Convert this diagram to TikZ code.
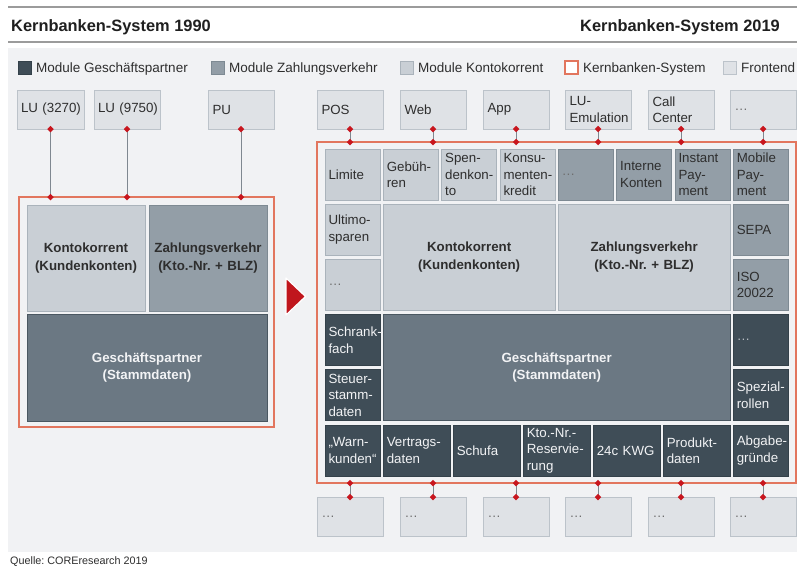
\documentclass[tikz,border=0pt]{standalone}
\usepackage{fontspec}
\setmainfont{Liberation Sans}
\usetikzlibrary{shapes.geometric}
\hyphenpenalty=10000
\exhyphenpenalty=10000
\frenchspacing

\definecolor{panelbg}{HTML}{F1F2F4}
\definecolor{rulegray}{HTML}{9B9B9B}
\definecolor{fefill}{HTML}{DFE2E6}
\definecolor{fedraw}{HTML}{BCC3CA}
\definecolor{kkfill}{HTML}{C9CFD5}
\definecolor{kkdraw}{HTML}{AAB3BB}
\definecolor{zvfill}{HTML}{939EA7}
\definecolor{zvdraw}{HTML}{7E8A93}
\definecolor{gpfill}{HTML}{3F4D57}
\definecolor{gpdraw}{HTML}{34414A}
\definecolor{gpbigfill}{HTML}{6B7883}
\definecolor{sysred}{HTML}{E2765E}
\definecolor{dotred}{HTML}{C8161E}
\definecolor{arrowred}{HTML}{C0161D}
\definecolor{txtdark}{HTML}{2E2E2E}
\definecolor{txtlight}{HTML}{F2F3F5}
\definecolor{linegray}{HTML}{7F8890}

% cell: [padding]{name}{style}{x1}{y1}{x2}{y2}{text}, pixel-like coordinates
\newcommand\modcell[8][3.5]{%
  \pgfmathsetmacro\mcw{#6-#4}%
  \pgfmathsetmacro\mch{#7-#5}%
  \pgfmathsetmacro\mct{#6-#4-2*#1}%
  \node[#3, inner xsep=#1pt, minimum width=\mcw pt, minimum height=\mch pt,
        text width=\mct pt] (#2) at ({(#4+#6)/2},{(#5+#7)/2}) {#8};}
\newcommand\ellip{{\color[HTML]{6E6E6E}…}}
\newcommand\ellipw{{\color[HTML]{B8BEC4}…}}

\tikzset{
  cellbase/.style={rectangle, inner ysep=0pt, outer sep=0pt, line width=0.8pt,
    align=left, font=\fontsize{13.3}{16.4}\selectfont},
  fe/.style={cellbase, fill=fefill, draw=fedraw, text=txtdark},
  kk/.style={cellbase, fill=kkfill, draw=kkdraw, text=txtdark},
  zv/.style={cellbase, fill=zvfill, draw=zvdraw, text=txtdark},
  gp/.style={cellbase, fill=gpfill, draw=gpdraw, text=txtlight},
  kkbig/.style={kk, align=center, font=\fontsize{13.3}{17.5}\selectfont\bfseries},
  zvbig/.style={zv, align=center, font=\fontsize{13.3}{17.5}\selectfont\bfseries},
  gpbig/.style={cellbase, fill=gpbigfill, draw=gpdraw!60!gpbigfill, text=txtlight,
    align=center, font=\fontsize{13.3}{17.5}\selectfont\bfseries},
  sysbox/.style={rectangle, draw=sysred, line width=1.5pt, outer sep=0pt, inner sep=0pt},
  conn/.style={draw=linegray, line width=0.9pt},
  dot/.style={diamond, fill=dotred, minimum size=6.5pt, inner sep=0pt, outer sep=0pt},
  legsq/.style={rectangle, minimum size=13pt, inner sep=0pt, outer sep=0pt, line width=0.8pt},
  legtxt/.style={anchor=base west, inner sep=0pt, text=txtdark, font=\fontsize{13.5}{16}\selectfont},
  title/.style={inner sep=0pt, text=black!88, font=\fontsize{16.4}{19}\selectfont\bfseries}
}

\begin{document}
\begin{tikzpicture}[x=1pt, y=-1pt]
\useasboundingbox (0,0) rectangle (797,566);
\fill[white] (0,0) rectangle (797,566);

% header
\draw[rulegray, line width=1.3pt] (8,7) -- (797,7);
\draw[rulegray, line width=1.3pt] (8,42) -- (797,42);
\node[title, anchor=base west] (t1990) at (11,31) {Kernbanken-System 1990};
\node[title, anchor=base east] (t2019) at (780,31) {Kernbanken-System 2019};

% panel
\fill[panelbg] (8,48) rectangle (797,552);

% legend
\node[legsq, fill=gpfill, draw=gpdraw] (lgGP) at (24.5,67.5) {};
\node[legtxt] (lgGPt) at (36,72.8) {Module Geschäftspartner};
\node[legsq, fill=zvfill, draw=zvdraw] (lgZV) at (217.5,67.5) {};
\node[legtxt] (lgZVt) at (229,72.8) {Module Zahlungsverkehr};
\node[legsq, fill=kkfill, draw=kkdraw] (lgKK) at (406.5,67.5) {};
\node[legtxt] (lgKKt) at (418,72.8) {Module Kontokorrent};
\node[legsq, fill=white, draw=sysred, line width=1.2pt] (lgSys) at (571.5,67.5) {};
\node[legtxt] (lgSyst) at (583,72.8) {Kernbanken-System};
\node[legsq, fill=fefill, draw=fedraw] (lgFE) at (729.5,67.5) {};
\node[legtxt] (lgFEt) at (741,72.8) {Frontend};

% frontends
\modcell[4]{fLUa}{fe}{17}{90}{84}{129}{LU~(3270)}
\modcell[4]{fLUb}{fe}{94}{90}{160}{129}{LU~(9750)}
\modcell[4.5]{fPU}{fe}{208}{90}{274}{129}{PU}
\modcell[4.5]{fPOS}{fe}{317}{90}{383}{129}{POS}
\modcell[4.5]{fWeb}{fe}{400}{90}{466}{129}{Web}
\modcell[4.5]{fApp}{fe}{483}{90}{549}{129}{App}
\modcell[4.5]{fLUE}{fe}{565}{90}{631}{129}{LU-\\Emulation}
\modcell[4.5]{fCC}{fe}{648}{90}{714}{129}{Call\\Center}
\modcell[4.5]{fMore}{fe}{730}{90}{796}{129}{\ellip}

% core banking system 1990
\modcell{sysL}{sysbox}{19}{197}{274}{427}{}
\modcell{lKK}{kkbig}{27}{205}{145}{311}{Kontokorrent\\(Kundenkonten)}
\modcell{lZV}{zvbig}{149}{205}{267}{311}{Zahlungsverkehr\\(Kto.-Nr. + BLZ)}
\modcell{lGP}{gpbig}{27}{314}{267}{421}{Geschäftspartner\\(Stammdaten)}

% transition arrow
\filldraw[fill=arrowred, draw=white, line width=1.2pt, line join=round]
  (286,278) -- (305.5,296.5) -- (286,315) -- cycle;

% core banking system 2019
\modcell{sysR}{sysbox}{317}{142}{796}{483}{}

\modcell{rLim}{kk}{325}{149}{380}{200}{Limite}
\modcell{rGeb}{kk}{383.3}{149}{438.3}{200}{Gebüh-\\ren}
\modcell{rSpe}{kk}{441.7}{149}{496.7}{200}{Spen-\\denkon-\\to}
\modcell{rKon}{kk}{500}{149}{555}{200}{Konsu-\\menten-\\kredit}
\modcell{rZa}{zv}{558.3}{149}{613.3}{200}{\ellip}
\modcell{rInt}{zv}{616.7}{149}{671.7}{200}{Interne\\Konten}
\modcell{rIns}{zv}{675}{149}{730}{200}{Instant\\Pay-\\ment}
\modcell{rMob}{zv}{733.3}{149}{788.3}{200}{Mobile\\Pay-\\ment}

\modcell{rUlt}{kk}{325}{204.2}{380}{255.2}{Ultimo-\\sparen}
\modcell{rKa}{kk}{325}{259.4}{380}{310.4}{\ellip}
\modcell{rKK}{kkbig}{383.3}{204.2}{555}{310.4}{Kontokorrent\\(Kundenkonten)}
\modcell{rZV}{kkbig}{558.3}{204.2}{730}{310.4}{Zahlungsverkehr\\(Kto.-Nr. + BLZ)}
\modcell{rSEPA}{zv}{733.3}{204.2}{788.3}{255.2}{SEPA}
\modcell{rISO}{zv}{733.3}{259.4}{788.3}{310.4}{ISO\\20022}

\modcell{rSch}{gp}{325}{314.6}{380}{365.6}{Schrank-\\fach}
\modcell{rSte}{gp}{325}{369.8}{380}{420.8}{Steuer-\\stamm-\\daten}
\modcell{rGP}{gpbig}{383.3}{314.6}{730}{420.8}{Geschäftspartner\\(Stammdaten)}
\modcell{rGa}{gp}{733.3}{314.6}{788.3}{365.6}{\ellipw}
\modcell{rSpz}{gp}{733.3}{369.8}{788.3}{420.8}{Spezial-\\rollen}

\modcell{rWarn}{gp}{325}{425}{380}{476}{„Warn-\\kunden“}
\modcell{rVer}{gp}{383.3}{425}{450}{476}{Vertrags-\\daten}
\modcell{rSchu}{gp}{453.3}{425}{520}{476}{Schufa}
\modcell{rKto}{gp}{523.3}{425}{590}{476}{Kto.-Nr.-\\Reservie-\\rung}
\modcell{rKWG}{gp}{593.3}{425}{660}{476}{24c~KWG}
\modcell{rPro}{gp}{663.3}{425}{730}{476}{Produkt-\\daten}
\modcell{rAbg}{gp}{733.3}{425}{788.3}{476}{Abgabe-\\gründe}

% backends
\modcell[4.5]{bA}{fe}{317}{497}{383}{536}{\ellip}
\modcell[4.5]{bB}{fe}{400}{497}{466}{536}{\ellip}
\modcell[4.5]{bC}{fe}{483}{497}{549}{536}{\ellip}
\modcell[4.5]{bD}{fe}{565}{497}{631}{536}{\ellip}
\modcell[4.5]{bE}{fe}{648}{497}{714}{536}{\ellip}
\modcell[4.5]{bF}{fe}{730}{497}{796}{536}{\ellip}

% connectors
\foreach \f in {fLUa,fLUb,fPU}
  \draw[conn] (\f.south) node[dot]{} -- (\f.south |- sysL.north) node[dot]{};
\foreach \f in {fPOS,fWeb,fApp,fLUE,fCC,fMore}
  \draw[conn] (\f.south) node[dot]{} -- (\f.south |- sysR.north) node[dot]{};
\foreach \b in {bA,bB,bC,bD,bE,bF}
  \draw[conn] (\b.north) node[dot]{} -- (\b.north |- sysR.south) node[dot]{};

% source
\node[anchor=base west, inner sep=0pt, text=txtdark, font=\fontsize{10.8}{13}\selectfont]
  (src) at (10,564.5) {Quelle: COREresearch 2019};
\end{tikzpicture}
\end{document}
